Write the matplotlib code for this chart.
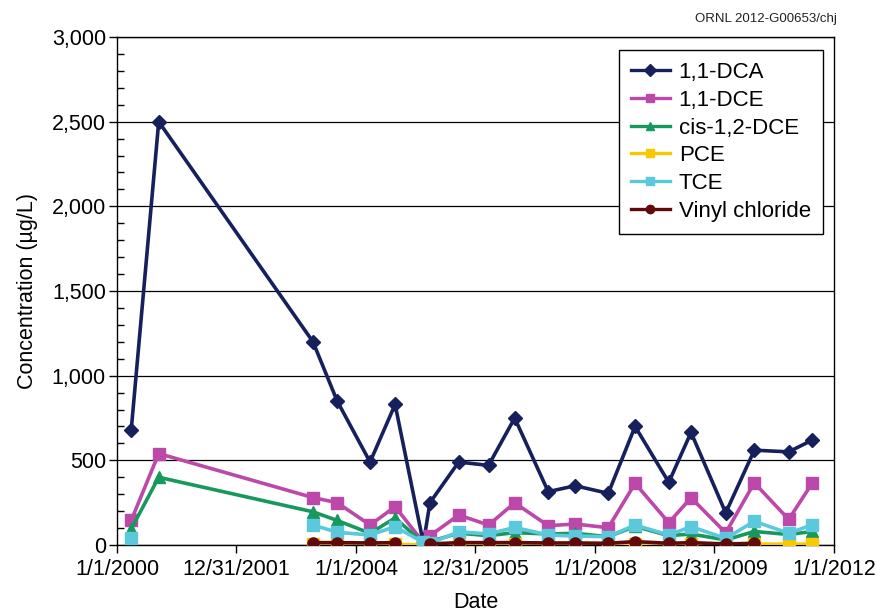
import numpy as np
import pandas as pd
import matplotlib
matplotlib.use("Agg")
import matplotlib.pyplot as plt
import matplotlib.dates as mdates
from matplotlib.lines import Line2D
from matplotlib.ticker import FuncFormatter, MultipleLocator

plt.rcParams['font.family'] = ['Liberation Sans', 'DejaVu Sans']

# Sampling dates
sample_dates = ["2000-03-28", "2000-09-12", "2003-04-13", "2003-09-08", "2004-03-27",
                "2004-08-27", "2005-02-16", "2005-03-28", "2005-09-20", "2006-03-21",
                "2006-08-28", "2007-03-21", "2007-09-02", "2008-03-22", "2008-09-02",
                "2009-03-27", "2009-08-10", "2010-03-10", "2010-09-01", "2011-03-30",
                "2011-08-22"]

nan = np.nan
# Concentrations (ug/L)
dca_11 = [680, 2500, 1200, 850, 490, 830, 10, 250, 490, 470, 750, 315, 350, 305, 700,
          370, 665, 190, 560, 550, 620]
dce_11 = [145, 540, 280, 250, 118, 226, 15, 55, 177, 118, 249, 114, 124, 102, 364,
          132, 279, 72, 367, 151, 367]
cis_12_dce = [95, 400, 196, 145, 69, 160, 10, 20, 70, 55, 73, 65, 69, 49, 110,
              55, 65, 30, 80, 62, 80]
pce = [nan, nan, 3, 3, 3, 3, 2, 3, 3, 3, 3, 3, 3, 3, 3, 3, 3, 3, 5, 5, 5]
tce = [40, nan, 118, 75, 59, 108, 15, 10, 78, 65, 104, 59, 53, 49, 118,
       59, 108, 39, 140, 69, 120]
vinyl_chloride = [nan, nan, 14, 14, 12, 14, nan, 6, 14, 14, 14, 12, 12, 10, 20,
                  10, 14, 6, 10, nan, nan]

series_names = ["1,1-DCA", "1,1-DCE", "cis-1,2-DCE", "PCE", "TCE", "Vinyl chloride"]
series_values = [dca_11, dce_11, cis_12_dce, pce, tce, vinyl_chloride]
series_colors = ["#16205C", "#BC48AA", "#17985C", "#F8C800", "#5CC8DC", "#620A0A"]
series_markers = ["D", "s", "^", "s", "s", "o"]
series_msize = [7.5, 8.5, 8.5, 8, 8, 8]

x_tick_labels = ["1/1/2000", "12/31/2001", "1/1/2004", "12/31/2005",
                 "1/1/2008", "12/31/2009", "1/1/2012"]
x_tick_dates = ["2000-01-01", "2001-12-31", "2004-01-01", "2005-12-31",
                "2008-01-01", "2009-12-31", "2012-01-01"]

dates = pd.to_datetime(sample_dates)

fig = plt.figure(figsize=(8.78, 6.12), dpi=100)
ax = fig.add_axes([117 / 878, 1 - 545 / 612, (834 - 117) / 878, (545 - 37) / 612])

for i, (name, vals, col, mk, ms) in enumerate(zip(series_names, series_values, series_colors,
                                                  series_markers, series_msize)):
    ax.plot(dates, np.array(vals, dtype=float), color=col, marker=mk, markersize=ms,
            linewidth=2.6, markeredgecolor=col, zorder=3 + i, label=name)

ax.set_xlim(pd.Timestamp("2000-01-01"), pd.Timestamp("2012-01-01"))
ax.set_ylim(0, 3000)

ax.set_xticks(pd.to_datetime(x_tick_dates))
ax.set_xticklabels(x_tick_labels)
ax.yaxis.set_major_locator(MultipleLocator(500))
ax.yaxis.set_minor_locator(MultipleLocator(100))
ax.yaxis.set_major_formatter(FuncFormatter(lambda v, p: f"{int(v):,}"))

ax.grid(axis='y', which='major', color='black', linewidth=0.9, zorder=1)
ax.set_axisbelow(True)
for sp in ax.spines.values():
    sp.set_color('black')
    sp.set_linewidth(1.0)

ax.tick_params(axis='both', which='major', labelsize=15.5, direction='out', length=6,
               width=1.0, colors='black')
ax.tick_params(axis='y', which='major', pad=2)
ax.tick_params(axis='x', which='major', pad=4)
ax.tick_params(axis='y', which='minor', direction='in', length=5, width=1.0)

ax.set_xlabel("Date", fontsize=15.5, labelpad=9)
ax.set_ylabel("Concentration (µg/L)", fontsize=15.5, labelpad=10)

handles = [Line2D([0], [0], color=c, marker=m, markersize=6, linewidth=2.4, markeredgecolor=c)
           for c, m in zip(series_colors, series_markers)]
leg = ax.legend(handles, series_names, loc='upper right',
                bbox_to_anchor=((823 - 117) / 717, 1 - 13 / 508),
                fontsize=16, frameon=True, fancybox=False, framealpha=1,
                edgecolor='black', handlelength=1.75, handletextpad=0.4,
                labelspacing=0.3, borderpad=0.55, borderaxespad=0)
leg.get_frame().set_linewidth(1.0)
leg.set_zorder(20)

fig.text(837 / 878, 1 - 19 / 612, "ORNL 2012-G00653/chj", fontsize=9.5,
         ha='right', va='center', color='#222222')

fig.savefig("out.png", dpi=100)
